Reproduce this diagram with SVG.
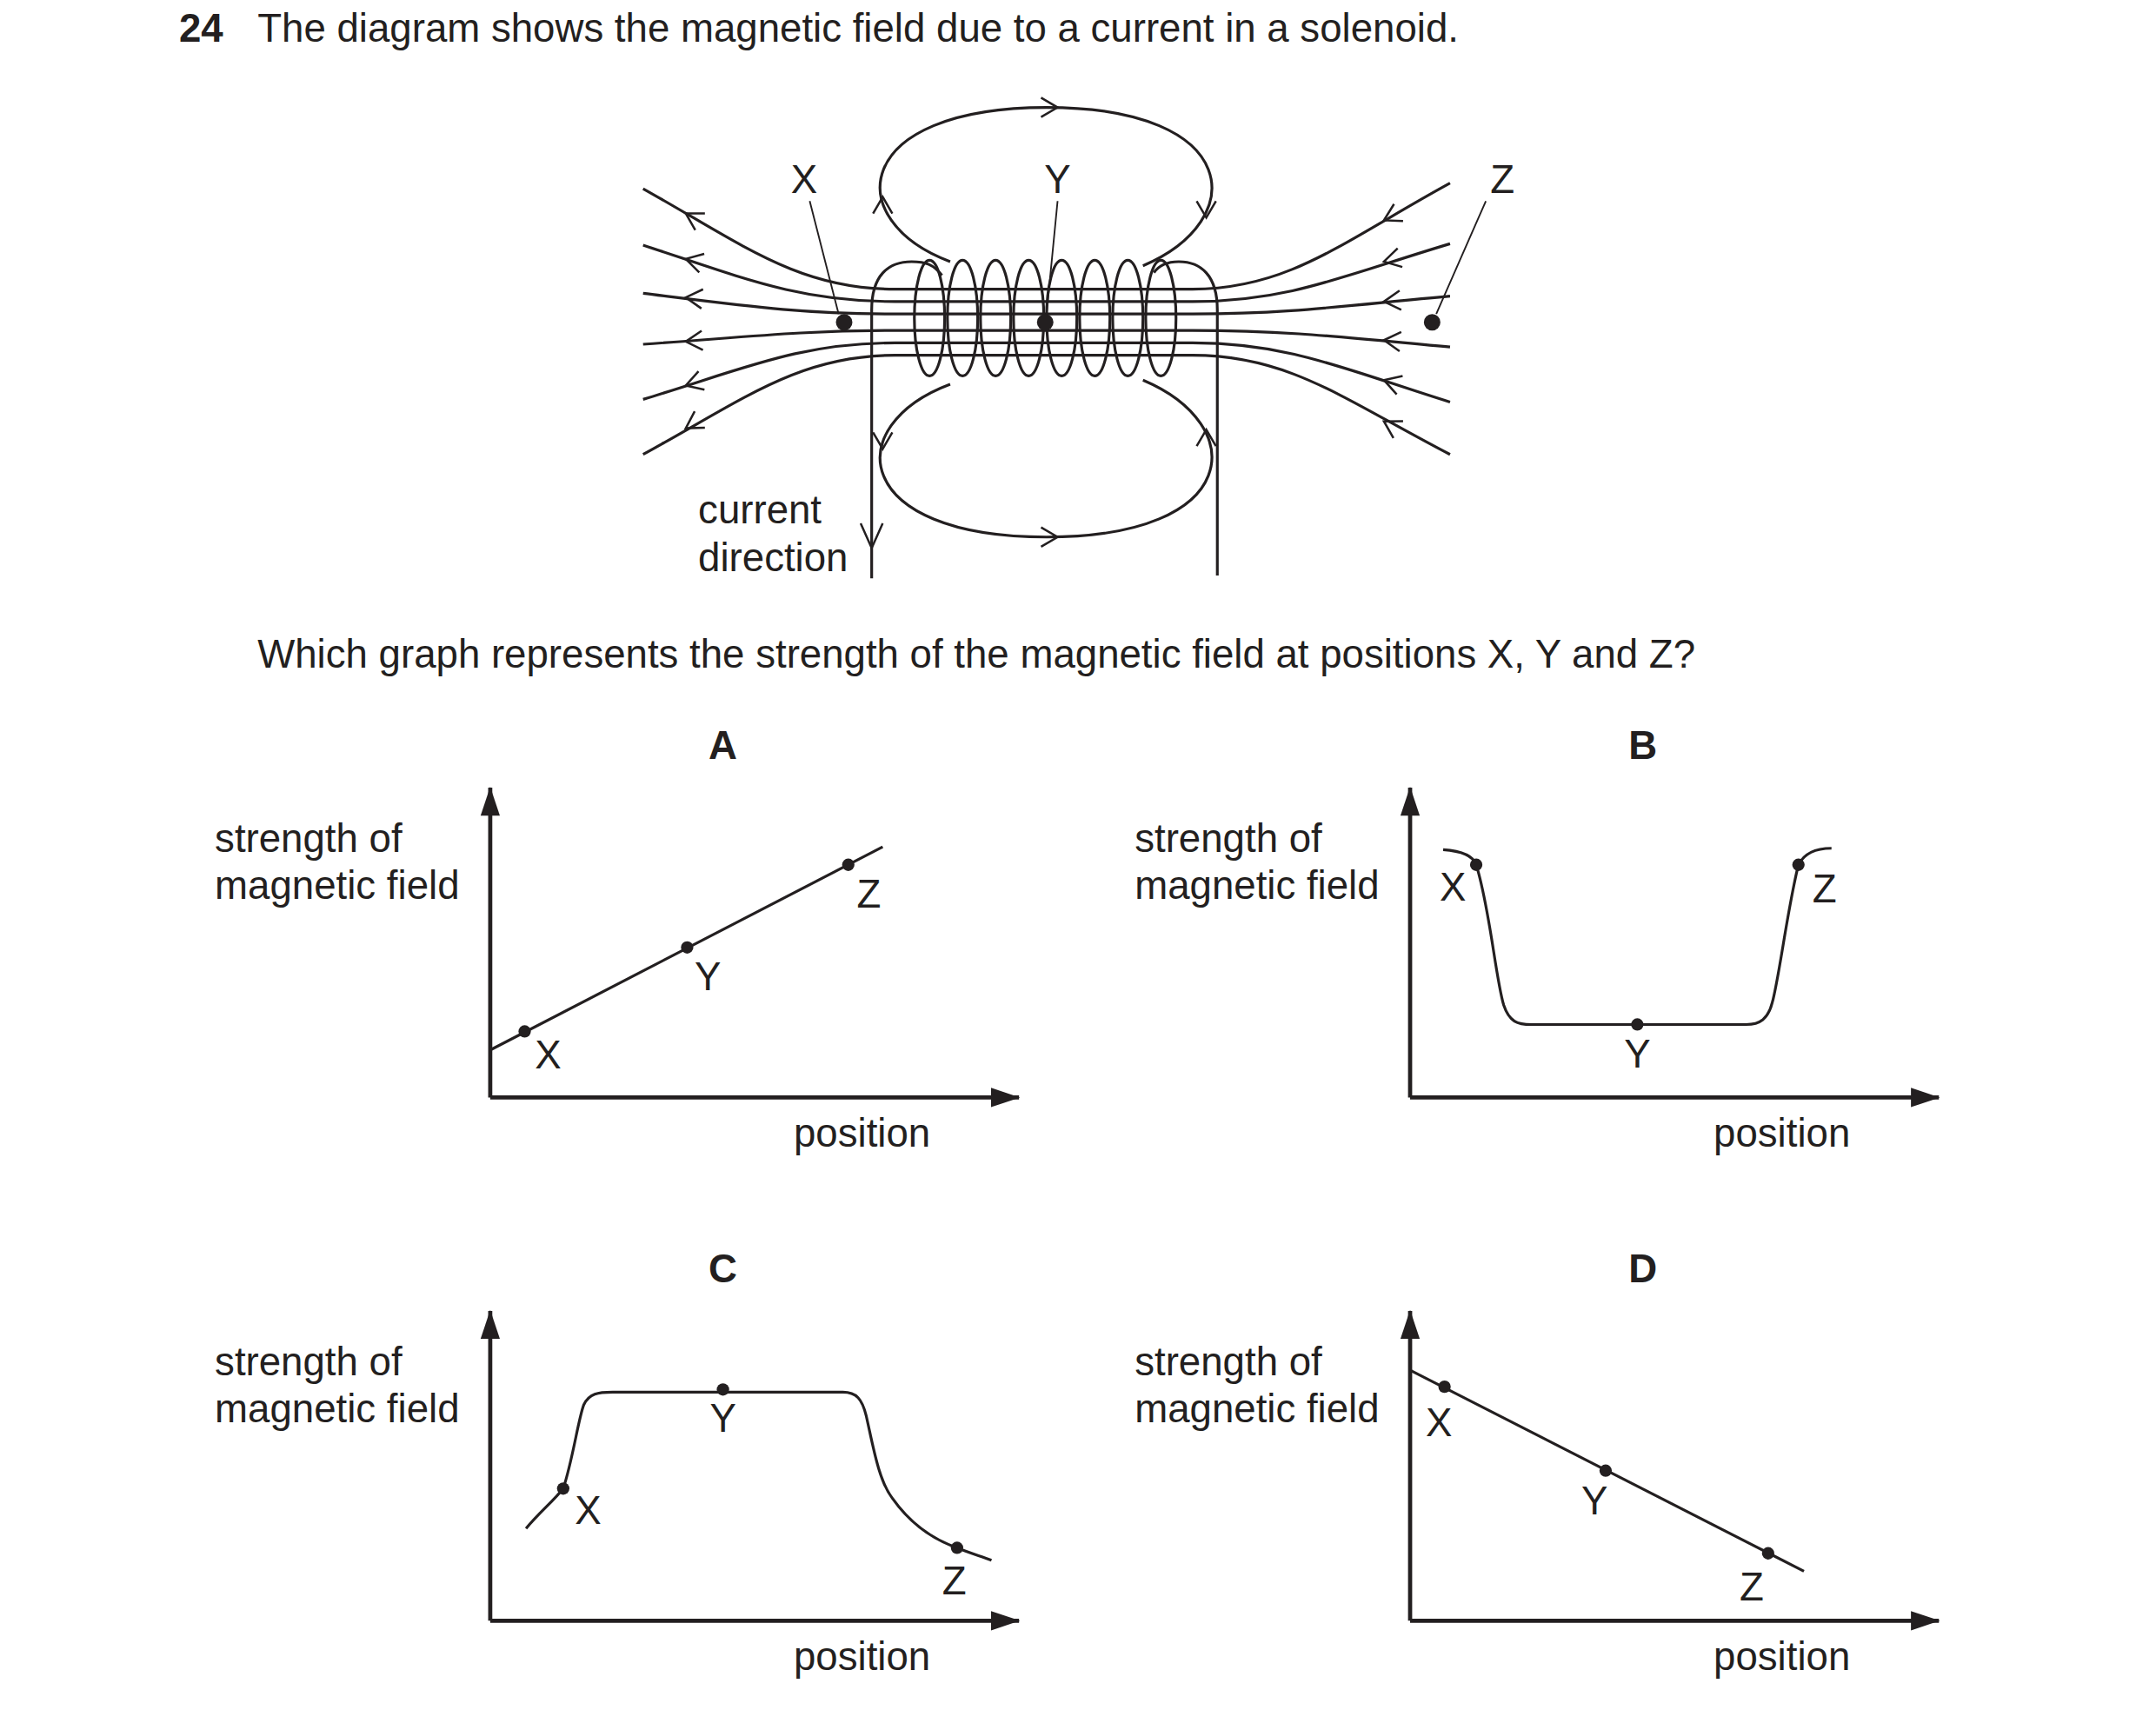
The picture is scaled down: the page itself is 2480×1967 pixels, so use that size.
<svg xmlns="http://www.w3.org/2000/svg" xmlns:xlink="http://www.w3.org/1999/xlink" width="2480" height="1967" viewBox="0 0 2480 1967">
<style>
text{font-family:"Liberation Sans",Arial,sans-serif;fill:#231f20}
.t{font-size:28.8px}
.b{font-size:28.8px;font-weight:bold}
.l{fill:none;stroke:#231f20;stroke-width:2}
.ax{fill:none;stroke:#231f20;stroke-width:3}
.thin{fill:none;stroke:#231f20;stroke-width:1.2}
.ch{fill:none;stroke:#231f20;stroke-width:1.6}
.dot{fill:#231f20}
</style>
<defs>
<path id="ch" d="M12,-7 L0,0 L12,7" class="ch"/>
<marker id="ah" viewBox="0 0 10 10" refX="9" refY="5" markerWidth="9" markerHeight="7" markerUnits="userSpaceOnUse" orient="auto" overflow="visible">
<path d="M-20,-5 L10,5 L-20,15 z" fill="#231f20"/>
</marker>
</defs>
<rect width="2480" height="1967" fill="#fff"/>
<g transform="scale(1.584)">
<g id="title">
<text x="130" y="30" class="b">24</text>
<text x="187" y="30" class="t">The diagram shows the magnetic field due to a current in a solenoid.</text>
</g>
<g id="solenoid">
<g id="fieldlines">
<path class="l" d="M467,137 C540,178 580,210 650,210 L866,210 C936,210 976,175 1053,133"/>
<path class="l" d="M467,178 C540,202 580,219 650,219 L866,219 C936,219 976,200 1053,177"/>
<path class="l" d="M467,213 C540,222 580,228 650,228 L866,228 C936,228 976,222 1053,215"/>
<path class="l" d="M467,250 C540,245 580,240 650,240 L866,240 C936,240 976,245 1053,252"/>
<path class="l" d="M467,290 C540,268 580,249 650,249 L866,249 C936,249 976,268 1053,292"/>
<path class="l" d="M467,330 C540,290 580,258 650,258 L866,258 C936,258 976,290 1053,330"/>
<use xlink:href="#ch" transform="translate(498,155) rotate(30)"/>
<use xlink:href="#ch" transform="translate(498,188) rotate(15)"/>
<use xlink:href="#ch" transform="translate(498,216) rotate(5)"/>
<use xlink:href="#ch" transform="translate(498,248) rotate(-4)"/>
<use xlink:href="#ch" transform="translate(498,280) rotate(-18)"/>
<use xlink:href="#ch" transform="translate(498,311) rotate(-32)"/>
<use xlink:href="#ch" transform="translate(1005,160) rotate(-28)"/>
<use xlink:href="#ch" transform="translate(1005,190) rotate(-14)"/>
<use xlink:href="#ch" transform="translate(1005,219) rotate(-5)"/>
<use xlink:href="#ch" transform="translate(1005,247) rotate(5)"/>
<use xlink:href="#ch" transform="translate(1005,276) rotate(18)"/>
<use xlink:href="#ch" transform="translate(1005,306) rotate(30)"/>
</g>
<g id="loops">
<path class="l" d="M690,190 C610,160 618,78 760,78 C902,78 908,160 830,193"/>
<path class="l" d="M690,279 C610,309 618,390 760,390 C902,390 908,309 830,276"/>
<use xlink:href="#ch" transform="translate(768,78) rotate(180)"/>
<use xlink:href="#ch" transform="translate(641,143) rotate(90)"/>
<use xlink:href="#ch" transform="translate(876,158) rotate(-90)"/>
<use xlink:href="#ch" transform="translate(768,390) rotate(180)"/>
<use xlink:href="#ch" transform="translate(641,326) rotate(-90)"/>
<use xlink:href="#ch" transform="translate(876,312) rotate(90)"/>
</g>
<g id="coil">
<path class="l" d="M633,420 L633,225 C633,200 645,190 662,190 C672,190 678,192 684,200"/>
<path class="l" d="M884,418 L884,225 C884,200 872,190 856,190 C848,190 842,192 838,198"/>
<ellipse class="l" cx="675" cy="231" rx="11" ry="42"/>
<ellipse class="l" cx="699" cy="231" rx="11" ry="42"/>
<ellipse class="l" cx="723" cy="231" rx="11" ry="42"/>
<ellipse class="l" cx="747" cy="231" rx="11" ry="42"/>
<ellipse class="l" cx="771" cy="231" rx="11" ry="42"/>
<ellipse class="l" cx="795" cy="231" rx="11" ry="42"/>
<ellipse class="l" cx="819" cy="231" rx="11" ry="42"/>
<ellipse class="l" cx="843" cy="231" rx="11" ry="42"/>
<path class="ch" d="M625,380 L633,398 L641,380"/>
</g>
<g id="points">
<circle class="dot" cx="613" cy="234" r="6"/>
<circle class="dot" cx="759" cy="234" r="6"/>
<circle class="dot" cx="1040" cy="234" r="6"/>
<path class="thin" d="M588,146 L609,228 M768,146 L760,228 M1079,146 L1043,228"/>
<text x="584" y="140" class="t" text-anchor="middle">X</text>
<text x="768" y="140" class="t" text-anchor="middle">Y</text>
<text x="1091" y="140" class="t" text-anchor="middle">Z</text>
<text x="507" y="380" class="t">current</text>
<text x="507" y="415" class="t">direction</text>
</g>
</g>
<g id="question">
<text x="187" y="485" class="t">Which graph represents the strength of the magnetic field at positions X, Y and Z?</text>
</g>
<g id="graphA">
<text x="525" y="551" class="b" text-anchor="middle">A</text>
<text x="156" y="619" class="t">strength of</text>
<text x="156" y="653" class="t">magnetic field</text>
<path class="ax" d="M356,797 L356,572" marker-end="url(#ah)"/>
<path class="ax" d="M356,797 L740,797" marker-end="url(#ah)"/>
<path class="l" d="M357,762 L641,615"/>
<circle class="dot" cx="381" cy="749" r="4.5"/><circle class="dot" cx="499" cy="688" r="4.5"/><circle class="dot" cx="616" cy="628" r="4.5"/>
<text x="398" y="776" class="t" text-anchor="middle">X</text>
<text x="514" y="719" class="t" text-anchor="middle">Y</text>
<text x="631" y="659" class="t" text-anchor="middle">Z</text>
<text x="626" y="833" class="t" text-anchor="middle">position</text>
</g>
<g id="graphB">
<text x="1193" y="551" class="b" text-anchor="middle">B</text>
<text x="824" y="619" class="t">strength of</text>
<text x="824" y="653" class="t">magnetic field</text>
<path class="ax" d="M1024,797 L1024,572" marker-end="url(#ah)"/>
<path class="ax" d="M1024,797 L1408,797" marker-end="url(#ah)"/>
<path class="l" d="M1048,617 C1062,618 1070,622 1072,628 C1082,660 1086,710 1092,730 C1096,742 1102,744 1112,744 L1268,744 C1278,744 1284,740 1287,728 C1292,710 1298,660 1306,628 C1310,620 1318,616 1330,616"/>
<circle class="dot" cx="1072" cy="628" r="4.5"/><circle class="dot" cx="1189" cy="744" r="4.5"/><circle class="dot" cx="1306" cy="628" r="4.5"/>
<text x="1055" y="654" class="t" text-anchor="middle">X</text>
<text x="1189" y="775" class="t" text-anchor="middle">Y</text>
<text x="1325" y="655" class="t" text-anchor="middle">Z</text>
<text x="1294" y="833" class="t" text-anchor="middle">position</text>
</g>
<g id="graphC">
<text x="525" y="931" class="b" text-anchor="middle">C</text>
<text x="156" y="999" class="t">strength of</text>
<text x="156" y="1033" class="t">magnetic field</text>
<path class="ax" d="M356,1177 L356,952" marker-end="url(#ah)"/>
<path class="ax" d="M356,1177 L740,1177" marker-end="url(#ah)"/>
<path class="l" d="M382,1110 C392,1098 402,1090 409,1081 C416,1060 420,1030 424,1020 C428,1012 434,1011 445,1011 L612,1011 C622,1011 626,1016 629,1028 C634,1050 638,1075 648,1088 C660,1105 675,1117 695,1124 C705,1128 712,1130 720,1133"/>
<circle class="dot" cx="409" cy="1081" r="4.5"/><circle class="dot" cx="525" cy="1009" r="4.5"/><circle class="dot" cx="695" cy="1124" r="4.5"/>
<text x="427" y="1107" class="t" text-anchor="middle">X</text>
<text x="525" y="1040" class="t" text-anchor="middle">Y</text>
<text x="693" y="1158" class="t" text-anchor="middle">Z</text>
<text x="626" y="1213" class="t" text-anchor="middle">position</text>
</g>
<g id="graphD">
<text x="1193" y="931" class="b" text-anchor="middle">D</text>
<text x="824" y="999" class="t">strength of</text>
<text x="824" y="1033" class="t">magnetic field</text>
<path class="ax" d="M1024,1177 L1024,952" marker-end="url(#ah)"/>
<path class="ax" d="M1024,1177 L1408,1177" marker-end="url(#ah)"/>
<path class="l" d="M1024,995 L1310,1141"/>
<circle class="dot" cx="1049" cy="1007" r="4.5"/><circle class="dot" cx="1166" cy="1068" r="4.5"/><circle class="dot" cx="1284" cy="1128" r="4.5"/>
<text x="1045" y="1043" class="t" text-anchor="middle">X</text>
<text x="1158" y="1100" class="t" text-anchor="middle">Y</text>
<text x="1272" y="1162" class="t" text-anchor="middle">Z</text>
<text x="1294" y="1213" class="t" text-anchor="middle">position</text>
</g>
</g>
</svg>
